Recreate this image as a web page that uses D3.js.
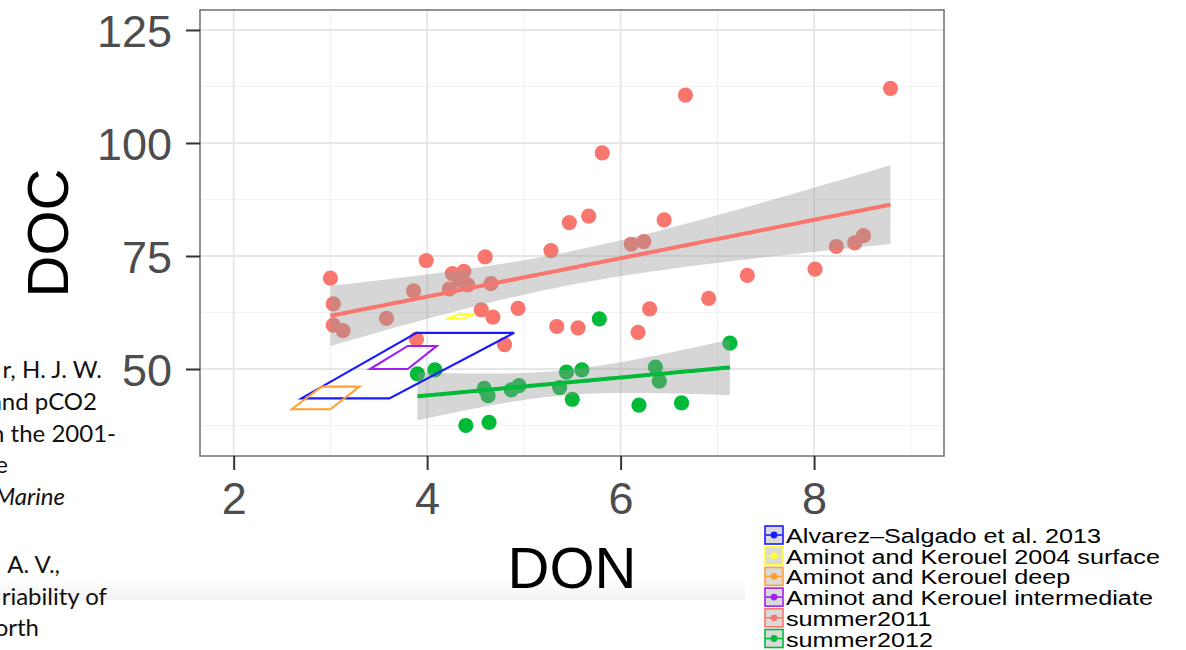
<!DOCTYPE html>
<html><head><meta charset="utf-8">
<script src="https://cdn.jsdelivr.net/npm/d3@7"></script>
<style>html,body{margin:0;padding:0;background:#fff;overflow:hidden}</style>
</head><body><svg id="c" width="1186" height="650"></svg>
<script>
// ---- data ----
const xTicks = [2, 4, 6, 8];
const xMinor = [3, 5, 7, 9];
const yTicks = [50, 75, 100, 125];
const yMinor = [37.5, 62.5, 87.5, 112.5];

const s2011DON = [3.00,3.03,3.03,3.13,3.58,3.86,3.99,3.89,4.23,4.26,4.38,4.34,4.42,4.60,4.66,4.56,4.68,4.94,4.80,5.28,5.47,5.67,5.34,5.56,5.81,6.67,8.79,6.11,6.24,6.45,6.30,6.18,6.91,7.31,8.01,8.23,8.42,8.51];
const s2011DOC = [70.1,64.4,59.7,58.5,61.2,67.3,74.0,56.6,67.7,71.1,71.6,69.6,68.6,74.8,68.9,63.1,61.5,63.4,55.4,76.2,82.4,83.8,59.4,59.1,97.8,110.6,112.1,77.6,78.2,83.0,63.3,58.1,65.6,70.7,72.1,77.1,77.9,79.5];

const s2012DON = [3.90,4.08,4.40,4.64,4.59,4.63,4.87,4.95,5.37,5.44,5.60,5.50,5.78,6.19,6.63,6.36,6.40,7.13];
const s2012DOC = [48.9,49.8,37.5,38.2,45.7,44.1,45.4,46.3,45.9,49.3,49.8,43.3,61.1,42.0,42.5,50.4,47.3,55.7];

const alvarezDON = [2.70,3.89,4.90,3.61];
const alvarezDOC = [43.5,58.0,58.0,43.5];
const akSurfDON = [4.20,4.33,4.49,4.37];
const akSurfDOC = [61.1,62.1,62.1,61.1];
const akDeepDON = [2.60,2.91,3.30,3.00];
const akDeepDOC = [41.1,46.1,46.1,41.1];
const akIntDON = [3.41,3.80,4.10,3.80];
const akIntDOC = [50.0,55.1,55.1,50.0];

const legendLabels = ["Alvarez\u2013Salgado et al. 2013","Aminot and Kerouel 2004 surface","Aminot and Kerouel deep","Aminot and Kerouel intermediate","summer2011","summer2012"];
const legendColors = ["#1a1aff","#ffff33","#ffa033","#a020f0","#F8766D","#00BA38"];

const bgLines = [
  {t:"r, H. J. W.", x:102, y:378, it:false},
  {t:"and pCO2", x:97, y:410, it:false},
  {t:"n the 2001-", x:116, y:442, it:false},
  {t:"e", x:8, y:473, it:false},
  {t:"Marine", x:65, y:505, it:true},
  {t:"A. V.,", x:60, y:573, it:false},
  {t:"riability of", x:107, y:605, it:false},
  {t:"orth", x:39, y:636, it:false},
  {t:"ological", x:126, y:668, it:false}
];

// ---- layout ----
const svg = d3.select("#c");
const P = {l:200, r:944, t:10, b:456};
const x = d3.scaleLinear().domain([1.652, 9.343]).range([P.l, P.r]);
const y = d3.scaleLinear().domain([30.75, 129.42]).range([P.b, P.t]);

// soft shading band at bottom of chart image (behind text)
const defs = svg.append("defs");
const lg = defs.append("linearGradient").attr("id","sh").attr("x1",0).attr("x2",0).attr("y1",0).attr("y2",1);
lg.append("stop").attr("offset","0%").attr("stop-color","#ffffff").attr("stop-opacity",0);
lg.append("stop").attr("offset","100%").attr("stop-color","#f1f1f1").attr("stop-opacity",1);
svg.append("rect").attr("x",0).attr("y",568).attr("width",745).attr("height",32).attr("fill","url(#sh)");

// background document text
const bg = svg.append("g").attr("font-family","Lato, 'Open Sans', sans-serif").attr("font-size",24).attr("fill","#111");
bgLines.forEach(d => bg.append("text").attr("x",d.x).attr("y",d.y).attr("text-anchor","end")
  .attr("font-style", d.it ? "italic" : "normal").text(d.t));

// panel
svg.append("rect").attr("x",P.l).attr("y",P.t).attr("width",P.r-P.l).attr("height",P.b-P.t).attr("fill","#fff");
const grid = svg.append("g");
xMinor.forEach(v => grid.append("line").attr("x1",x(v)).attr("x2",x(v)).attr("y1",P.t).attr("y2",P.b).attr("stroke","#f2f2f2").attr("stroke-width",1.2));
yMinor.forEach(v => grid.append("line").attr("y1",y(v)).attr("y2",y(v)).attr("x1",P.l).attr("x2",P.r).attr("stroke","#f2f2f2").attr("stroke-width",1.2));
xTicks.forEach(v => grid.append("line").attr("x1",x(v)).attr("x2",x(v)).attr("y1",P.t).attr("y2",P.b).attr("stroke","#e6e6e6").attr("stroke-width",1.8));
yTicks.forEach(v => grid.append("line").attr("y1",y(v)).attr("y2",y(v)).attr("x1",P.l).attr("x2",P.r).attr("stroke","#e6e6e6").attr("stroke-width",1.8));

// points
const plot = svg.append("g");
function pts(xs, ys, col){
  plot.append("g").selectAll("circle").data(xs.map((d,i)=>[d,ys[i]])).join("circle")
    .attr("cx",d=>x(d[0])).attr("cy",d=>y(d[1])).attr("r",7.6).attr("fill",col);
}
pts(s2011DON, s2011DOC, "#F8766D");
pts(s2012DON, s2012DOC, "#00BA38");

// linear fit with 95% CI
function lmBand(xs, ys){
  const n = xs.length, mx = d3.mean(xs), my = d3.mean(ys);
  let sxx=0, sxy=0;
  xs.forEach((v,i)=>{ sxx += (v-mx)*(v-mx); sxy += (v-mx)*(ys[i]-my); });
  const b = sxy/sxx, a = my - b*mx;
  let sse=0; xs.forEach((v,i)=>{ const r = ys[i]-(a+b*v); sse += r*r; });
  const s2 = sse/(n-2), df = n-2;
  const t = 1.96 + 2.4/df + 2.9/(df*df);
  const [lo, hi] = d3.extent(xs);
  return d3.range(0, 81).map(k => {
    const xv = lo + (hi-lo)*k/80, f = a + b*xv;
    const se = Math.sqrt(s2*(1/n + (xv-mx)*(xv-mx)/sxx));
    return {x:xv, f:f, lo:f - t*se, hi:f + t*se};
  });
}
const fits = [[s2011DON,s2011DOC,"#F8766D"],[s2012DON,s2012DOC,"#00BA38"]].map(d=>[lmBand(d[0],d[1]), d[2]]);
const area = d3.area().x(d=>x(d.x)).y0(d=>y(d.lo)).y1(d=>y(d.hi));
const line = d3.line().x(d=>x(d.x)).y(d=>y(d.f));
fits.forEach(([b,c]) => plot.append("path").attr("d",area(b)).attr("fill","#999").attr("fill-opacity",0.4));
fits.forEach(([b,c]) => plot.append("path").attr("d",line(b)).attr("fill","none").attr("stroke",c).attr("stroke-width",4));

// literature polygons
const polys = [[alvarezDON,alvarezDOC,legendColors[0]],[akSurfDON,akSurfDOC,legendColors[1]],[akDeepDON,akDeepDOC,legendColors[2]],[akIntDON,akIntDOC,legendColors[3]]];
polys.forEach(([xs,ys,c]) => plot.append("polygon")
  .attr("points", xs.map((v,i)=>x(v)+","+y(ys[i])).join(" "))
  .attr("fill","none").attr("stroke",c).attr("stroke-width",2.1));

// panel border
svg.append("rect").attr("x",P.l).attr("y",P.t).attr("width",P.r-P.l).attr("height",P.b-P.t)
  .attr("fill","none").attr("stroke","#777").attr("stroke-width",1.6);

// axes
const xAx = svg.append("g").attr("transform",`translate(0,${P.b})`)
  .call(d3.axisBottom(x).tickValues(xTicks).tickSize(14).tickPadding(12).tickFormat(d3.format("d")));
const yAx = svg.append("g").attr("transform",`translate(${P.l},0)`)
  .call(d3.axisLeft(y).tickValues(yTicks).tickSize(14).tickPadding(14).tickFormat(d3.format("d")));
[xAx,yAx].forEach(g=>{
  g.select(".domain").remove();
  g.selectAll(".tick line").attr("stroke","#333").attr("stroke-width",2);
  g.selectAll(".tick text").attr("fill","#4d4d4d").attr("font-size",45).attr("font-family","'Liberation Sans', Arial, sans-serif");
});
xAx.selectAll(".tick text").attr("dy","0.71em");
yAx.selectAll(".tick text").attr("dy","0.36em");

// axis titles
svg.append("text").attr("x",(P.l+P.r)/2).attr("y",588).attr("text-anchor","middle")
  .attr("font-family","'Liberation Sans', Arial, sans-serif").attr("font-size",58).attr("fill","#000").text("DON");
svg.append("text").attr("transform",`translate(68,${(P.t+P.b)/2}) rotate(-90)`).attr("text-anchor","middle")
  .attr("font-family","'Liberation Sans', Arial, sans-serif").attr("font-size",58).attr("fill","#000").text("DOC");

// legend
const leg = svg.append("g");
legendLabels.forEach((lab,i)=>{
  const top = 526 + i*20.7, c = legendColors[i];
  const g = leg.append("g");
  g.append("rect").attr("x",765).attr("y",top).attr("width",18).attr("height",18)
    .attr("fill","#dadada").attr("stroke",c).attr("stroke-width",1.6);
  g.append("line").attr("x1",766).attr("x2",782).attr("y1",top+9).attr("y2",top+9).attr("stroke",c).attr("stroke-width",1.6);
  g.append("circle").attr("cx",774).attr("cy",top+9).attr("r",3.4).attr("fill",c);
  g.append("text").attr("transform",`translate(786,${top+17}) scale(1.2,1)`)
    .attr("font-family","'Liberation Sans', Arial, sans-serif").attr("font-size",21).attr("fill","#000").text(lab);
});
</script></body></html>
